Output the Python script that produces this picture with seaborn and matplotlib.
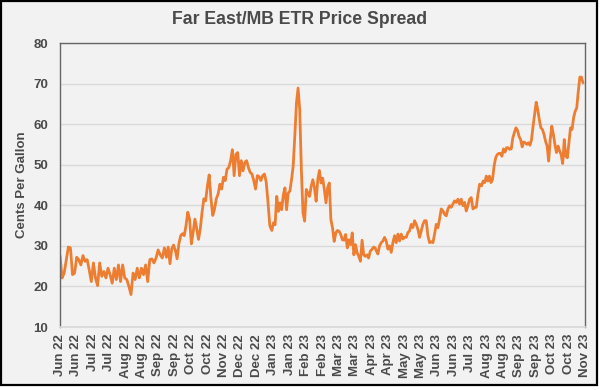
import numpy as np
import pandas as pd
import matplotlib
matplotlib.use("Agg")
import matplotlib.pyplot as plt
import matplotlib.dates as mdates
from matplotlib.patches import Rectangle
import seaborn as sns

# Spread readings (cents per gallon)
jun_sep22 = [27.6, 22.1, 23.3, 26.5, 29.7, 29.5, 22.9, 23.3, 27.2, 26.6,
             25.3, 27.6, 26.2, 26.6, 24.1, 21.2, 25.8, 22.1, 20.2, 25.8,
             22.5, 23.7, 22.1, 24.5, 22.9, 20.8, 24.5, 21.7, 25.3, 21.2,
             25.3, 22.1, 21.7, 20.0, 18.0, 23.3, 21.7, 24.5, 22.1, 24.5,
             22.9, 25.3, 21.2, 26.6, 26.8, 25.8, 27.0, 29.0, 27.8, 27.0,
             29.5]
sep_dec22 = [27.2, 29.7, 25.6, 29.3, 30.2, 28.9, 26.8, 30.5, 32.5, 33.0,
             32.5, 35.0, 38.3, 36.6, 30.5, 33.4, 36.6, 34.2, 31.6, 34.2,
             38.3, 41.6, 41.1, 44.8, 47.5, 41.6, 37.5, 39.1, 41.6, 42.8,
             45.2, 44.0, 46.9, 46.1, 48.9, 49.3, 51.0, 53.7, 47.3, 52.6,
             53.0, 47.3, 51.0, 48.5, 50.6, 51.0, 49.3, 48.1, 47.7, 46.1,
             44.0, 47.3, 47.1, 46.1, 47.3, 47.7, 45.7, 40.7, 35.0]
dec22_apr23 = [33.8, 35.7, 35.2, 42.2, 38.5, 40.6, 38.9, 42.6, 44.3, 38.9,
               43.0, 43.5, 46.3, 49.6, 57.0, 65.2, 68.9, 63.6, 48.8, 38.1,
               36.1, 43.9, 43.0, 42.2, 44.7, 46.3, 44.3, 41.0, 46.3, 48.6,
               45.5, 46.7, 43.9, 40.6, 44.3, 45.5, 36.5, 34.4, 31.1, 33.2,
               33.8, 33.6, 32.8, 31.5, 31.4, 32.8, 29.5, 31.5, 30.3, 33.2,
               27.8, 30.3, 28.3, 27.4, 26.2, 31.4, 27.8, 27.4, 27.8, 27.0,
               28.7, 29.1, 29.7, 29.5]
apr_jul23 = [28.8, 28.0, 30.0, 30.8, 31.2, 32.1, 31.2, 29.2, 30.0, 28.4,
             30.8, 32.5, 30.8, 32.9, 31.2, 32.9, 31.7, 32.1, 32.1, 33.3,
             33.7, 35.3, 34.5, 36.2, 35.3, 34.1, 32.1, 33.7, 35.3, 36.2,
             36.2, 32.5, 30.8, 31.0, 30.8, 32.9, 35.3, 34.5, 36.6, 39.1,
             38.6, 37.8, 37.4, 39.1, 39.9, 39.5, 40.3, 41.1, 40.7, 41.5,
             40.3, 41.5, 39.9, 40.7, 38.6, 39.9, 41.5, 41.9, 39.1, 39.5,
             39.5, 42.7, 45.2]
jul_oct23 = [44.8, 46.0, 45.6, 47.2, 46.0, 47.2, 45.6, 46.4, 49.7, 51.7,
             52.5, 52.8, 52.8, 52.1, 53.9, 53.1, 54.2, 54.2, 53.8, 53.9,
             56.6, 57.9, 59.1, 58.5, 57.0, 56.2, 54.4, 55.6, 55.4, 55.0,
             55.4, 54.8, 56.2, 59.5, 62.4, 65.4, 63.6, 61.1, 59.1, 58.7,
             57.5, 55.8, 54.6, 50.9, 56.2, 59.5, 57.5, 55.0, 53.0, 54.6,
             53.4, 52.5, 50.3, 56.2, 52.1, 51.7, 55.4, 59.1, 58.7, 61.6,
             63.2, 64.0, 68.1, 71.6, 71.6, 70.2]

periods = [("2022-06-01", "2022-09-12"),
           ("2022-09-14", "2022-12-25"),
           ("2022-12-27", "2023-04-08"),
           ("2023-04-09", "2023-07-20"),
           ("2023-07-22", "2023-10-30")]

axis_start, axis_end = "2022-06-01", "2023-11-01"
tick_labels = ["Jun 22", "Jun 22", "Jul 22", "Jul 22", "Aug 22", "Aug 22",
               "Sep 22", "Sep 22", "Oct 22", "Oct 22", "Nov 22", "Dec 22",
               "Dec 22", "Jan 23", "Jan 23", "Feb 23", "Feb 23", "Mar 23",
               "Mar 23", "Apr 23", "Apr 23", "May 23", "May 23", "Jun 23",
               "Jun 23", "Jul 23", "Aug 23", "Aug 23", "Sep 23", "Sep 23",
               "Oct 23", "Oct 23", "Nov 23"]

# build one long frame
parts = []
for vals, (a, b) in zip([jun_sep22, sep_dec22, dec22_apr23, apr_jul23, jul_oct23], periods):
    parts.append(pd.DataFrame({"date": pd.date_range(a, b, periods=len(vals)),
                               "spread": vals}))
df = pd.concat(parts, ignore_index=True)

sns.set_theme(style="white")
plt.rcParams["font.family"] = ["Liberation Sans", "DejaVu Sans"]

text_col = "#4a4a4a"
fig, ax = plt.subplots(figsize=(6, 3.9), dpi=100)
fig.patch.set_facecolor("white")
fig.subplots_adjust(left=0.1, right=0.975, top=0.8897, bottom=0.1615)

# framed grey panel behind everything
fig.add_artist(Rectangle((1 / 600, 5 / 390), 596 / 600, 384 / 390,
                         transform=fig.transFigure, facecolor="#f2f2f2",
                         edgecolor="black", linewidth=1.6, zorder=-1))

ax.set_facecolor("#f2f2f2")
sns.lineplot(data=df, x="date", y="spread", color="#ED7D31", linewidth=2, ax=ax)

ax.set_ylim(10, 80)
ax.set_yticks(range(10, 81, 10))
x0, x1 = mdates.date2num(pd.Timestamp(axis_start)), mdates.date2num(pd.Timestamp(axis_end))
ax.set_xlim(x0, x1)
ax.set_xticks(np.linspace(x0, x1, len(tick_labels)))
ax.set_xticklabels(tick_labels, rotation=90)

ax.grid(axis="y", color="#d9d9d9", linewidth=1)
ax.set_axisbelow(True)
for s in ["left", "top", "right"]:
    ax.spines[s].set_color("#666666")
    ax.spines[s].set_linewidth(1)
ax.spines["bottom"].set_color("#d9d9d9")

ax.tick_params(length=0, colors=text_col, labelsize=9.5)
ax.tick_params(axis="y", pad=8.5)
ax.tick_params(axis="x", pad=5)
for lab in ax.get_xticklabels() + ax.get_yticklabels():
    lab.set_fontweight("bold")
ax.set_xlabel("")
ax.set_ylabel("Cents Per Gallon", fontsize=9.5, color=text_col, fontweight="bold")
ax.yaxis.set_label_coords(-0.061, 0.5)

fig.text(0.5, 1 - 20 / 390, "Far East/MB ETR Price Spread", ha="center", va="center",
         fontsize=12.7, fontweight="bold", color=text_col)

fig.savefig("out.png", dpi=100, facecolor=fig.get_facecolor())
